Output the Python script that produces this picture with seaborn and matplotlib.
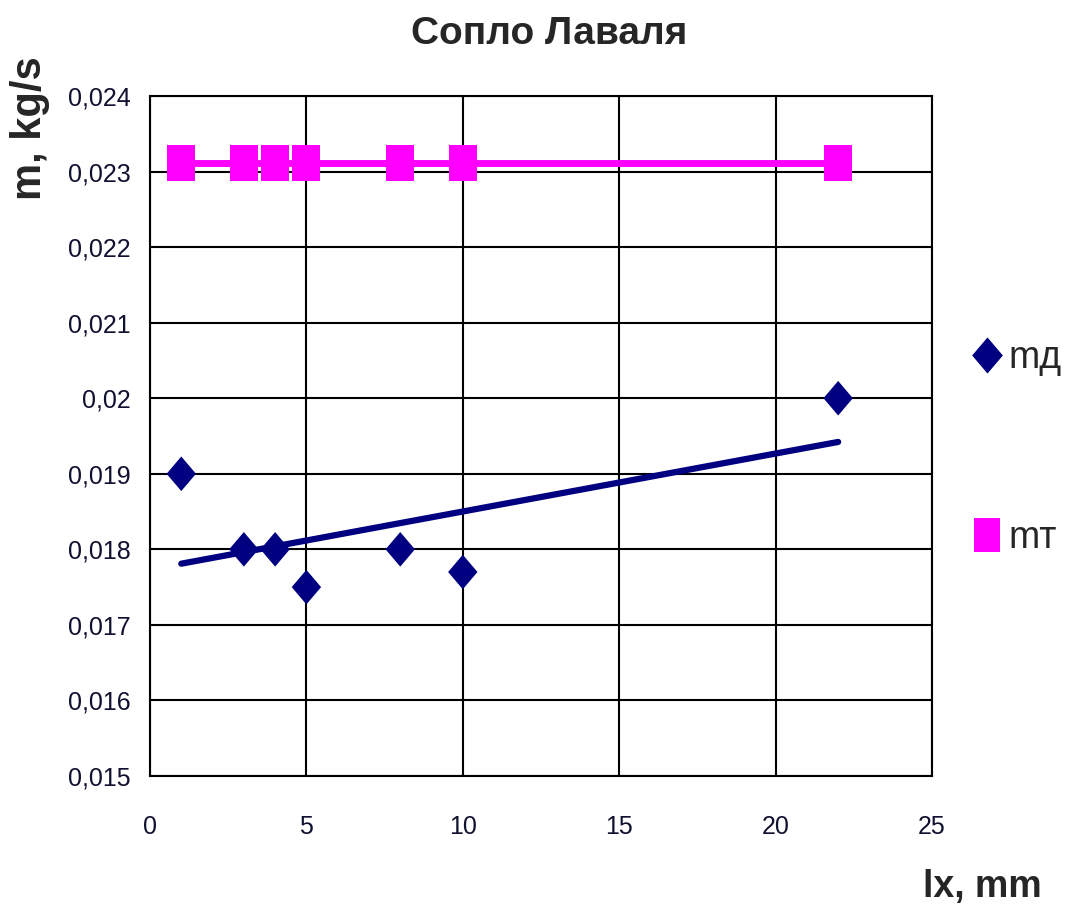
import numpy as np
import pandas as pd
import seaborn as sns
import matplotlib.pyplot as plt
from matplotlib.lines import Line2D
from matplotlib.path import Path
from matplotlib.ticker import FuncFormatter, MultipleLocator

# Measured mass flow along the Laval nozzle
lx_mm = [1, 3, 4, 5, 8, 10, 22]
m_d = [0.0190, 0.0180, 0.0180, 0.0175, 0.0180, 0.0177, 0.0200]
m_t = [0.02311, 0.02311, 0.02311, 0.02311, 0.02311, 0.02311, 0.02311]
series_names = ["mд", "mт"]
title_text = "Сопло Лаваля"
x_label = "lx, mm"
y_label = "m, kg/s"

navy = "#000080"
magenta = "#FF00FF"

sns.set_theme(style="white")
fam = ["Liberation Sans", "DejaVu Sans"]
plt.rcParams["font.family"] = fam

# slightly tall markers, as in a stretched spreadsheet chart
tall_diamond = Path([(0, 1), (0.85, 0), (0, -1), (-0.85, 0), (0, 1)],
                    [Path.MOVETO, Path.LINETO, Path.LINETO, Path.LINETO, Path.CLOSEPOLY])
tall_square = Path([(-0.78, -1), (0.78, -1), (0.78, 1), (-0.78, 1), (-0.78, -1)],
                   [Path.MOVETO, Path.LINETO, Path.LINETO, Path.LINETO, Path.CLOSEPOLY])

df = pd.DataFrame({"lx": lx_mm, "md": m_d, "mt": m_t})

fig = plt.figure(figsize=(10.71, 9.15), dpi=100)
ax = fig.add_axes([150 / 1071, 1 - 776 / 915, (932 - 150) / 1071, (776 - 96) / 915])

# theoretical flow: line with square markers
sns.lineplot(data=df, x="lx", y="mt", ax=ax, color=magenta, linewidth=5,
             marker=tall_square, markersize=26, markeredgewidth=0, zorder=4)
# measured flow: diamonds with a linear trend
sns.regplot(data=df, x="lx", y="md", ax=ax, scatter=False, ci=None,
            color=navy, line_kws={"linewidth": 4.5, "zorder": 3})
sns.scatterplot(data=df, x="lx", y="md", ax=ax, color=navy, marker=tall_diamond,
                s=620, edgecolor="none", zorder=5)

ax.set_xlim(0, 25)
ax.set_ylim(0.015, 0.024)
ax.xaxis.set_major_locator(MultipleLocator(5))
ax.yaxis.set_major_locator(MultipleLocator(0.001))


def comma_fmt(v, pos):
    s = f"{v:.3f}".rstrip("0").rstrip(".")
    return s.replace(".", ",")


ax.yaxis.set_major_formatter(FuncFormatter(comma_fmt))
ax.grid(True, color="black", linewidth=1.5)
ax.set_axisbelow(True)
for sp in ax.spines.values():
    sp.set_color("black")
    sp.set_linewidth(1.5)
ax.tick_params(axis="both", direction="out", length=8, width=1.5, color="black",
               labelsize=18, labelcolor="#101030", pad=6)
ax.tick_params(axis="x", pad=20)

ax.set_xlabel("")
ax.set_ylabel("")
fig.text(30 / 1071, 1 - 128 / 915, y_label, rotation=90, ha="center", va="center",
         fontsize=30, fontweight="bold", family=fam)
fig.text(982 / 1071, 1 - 887 / 915, x_label, ha="center", va="center",
         fontsize=27, fontweight="bold", family=fam)
fig.text(549 / 1071, 1 - 34 / 915, title_text, ha="center", va="center",
         fontsize=28, fontweight="bold", family=fam)

handles = [
    Line2D([], [], linestyle="none", marker=tall_diamond, color=navy, markersize=26,
           markeredgewidth=0),
    Line2D([], [], linestyle="none", marker=tall_square, color=magenta, markersize=24,
           markeredgewidth=0),
]
fig.legend(handles, series_names, loc="center left",
           bbox_to_anchor=(962 / 1071, 1 - 448 / 915), frameon=False,
           fontsize=27, handlelength=0.55, handletextpad=0.3, labelspacing=3.85,
           borderaxespad=0)

fig.savefig("out.png", dpi=100)
